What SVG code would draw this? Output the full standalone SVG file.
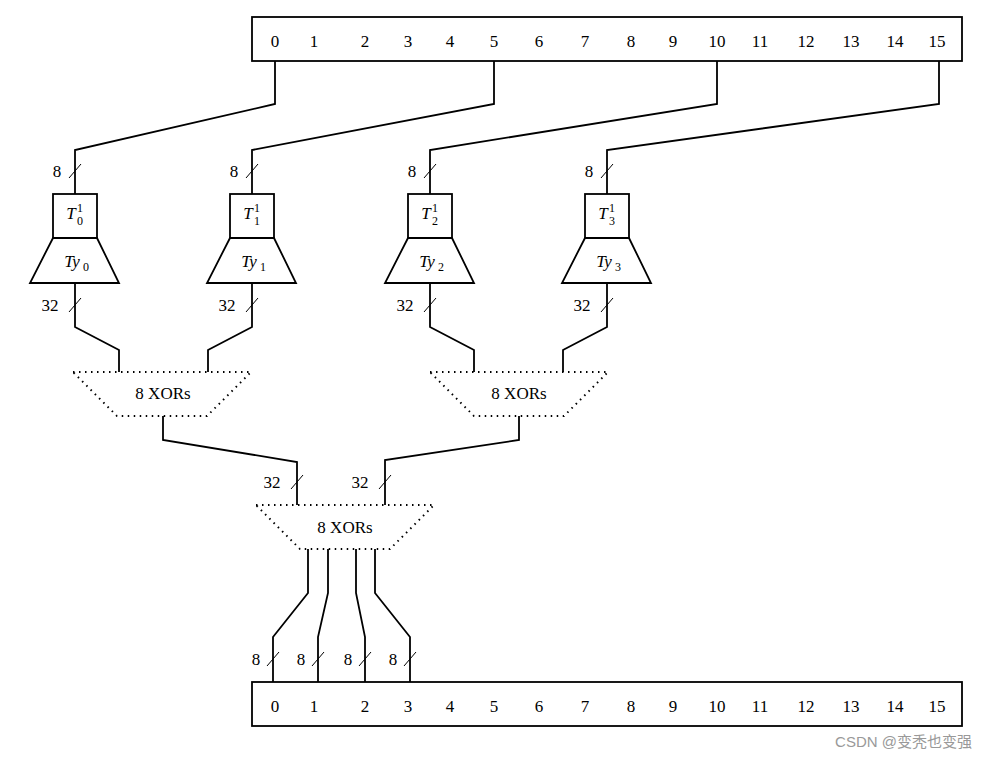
<svg xmlns="http://www.w3.org/2000/svg" width="988" height="760" viewBox="0 0 988 760">
<style>
text{font-family:"Liberation Serif",serif;font-size:17px;fill:#000;text-anchor:middle}
.w{fill:none;stroke:#000;stroke-width:1.8}
.d{fill:none;stroke:#000;stroke-width:2;stroke-dasharray:1.5 4.5}
.s{stroke:#000;stroke-width:1}
.i{font-style:italic}
.sm{font-size:12px;text-anchor:start}
</style>
<rect width="988" height="760" fill="#fff"/>
<g id="top"><rect class="w" x="252" y="17" width="710" height="44"/>
<text x="275" y="47">0</text><text x="314" y="47">1</text><text x="365" y="47">2</text><text x="408" y="47">3</text><text x="450" y="47">4</text><text x="494" y="47">5</text><text x="539" y="47">6</text><text x="585" y="47">7</text><text x="631" y="47">8</text><text x="673" y="47">9</text><text x="717" y="47">10</text><text x="760" y="47">11</text><text x="806" y="47">12</text><text x="851" y="47">13</text><text x="895" y="47">14</text><text x="937" y="47">15</text></g>
<g id="bottom"><rect class="w" x="252" y="682" width="710" height="44"/>
<text x="275" y="712">0</text><text x="314" y="712">1</text><text x="365" y="712">2</text><text x="408" y="712">3</text><text x="450" y="712">4</text><text x="494" y="712">5</text><text x="539" y="712">6</text><text x="585" y="712">7</text><text x="631" y="712">8</text><text x="673" y="712">9</text><text x="717" y="712">10</text><text x="760" y="712">11</text><text x="806" y="712">12</text><text x="851" y="712">13</text><text x="895" y="712">14</text><text x="937" y="712">15</text></g>
<g id="connectors">
<polyline class="w" points="275,61 275,104 75,150 75,194"/>
<polyline class="w" points="494,61 494,104 252,150 252,194"/>
<polyline class="w" points="717,61 717,104 430,150 430,194"/>
<polyline class="w" points="939,61 939,104 607,150 607,194"/>
<polyline class="w" points="75,283 75,327 119,350 119,372"/>
<polyline class="w" points="252,283 252,327 208,350 208,372"/>
<polyline class="w" points="430,283 430,327 474,350 474,372"/>
<polyline class="w" points="607,283 607,327 563,350 563,372"/>
<polyline class="w" points="163,416 163,440 297,462 297,505"/>
<polyline class="w" points="519,416 519,440 385,460 385,505"/>
<polyline class="w" points="308,549 308,593 273,637 273,682"/>
<polyline class="w" points="328,549 328,593 318,637 318,682"/>
<polyline class="w" points="356,549 356,593 365,637 365,682"/>
<polyline class="w" points="375,549 375,593 410,637 410,682"/>
<g class="s">
<line x1="69" y1="178" x2="81" y2="164"/><line x1="246" y1="178" x2="258" y2="164"/><line x1="424" y1="178" x2="436" y2="164"/><line x1="601" y1="178" x2="613" y2="164"/>
<line x1="69" y1="312" x2="81" y2="298"/><line x1="246" y1="312" x2="258" y2="298"/><line x1="424" y1="312" x2="436" y2="298"/><line x1="601" y1="312" x2="613" y2="298"/>
<line x1="291" y1="489" x2="303" y2="475"/><line x1="379" y1="489" x2="391" y2="475"/>
<line x1="267" y1="666" x2="279" y2="652"/><line x1="312" y1="666" x2="324" y2="652"/><line x1="359" y1="666" x2="371" y2="652"/><line x1="404" y1="666" x2="416" y2="652"/>
</g>
<text x="57" y="177">8</text><text x="234" y="177">8</text><text x="412" y="177">8</text><text x="589" y="177">8</text>
<text x="50" y="311">32</text><text x="227" y="311">32</text><text x="405" y="311">32</text><text x="582" y="311">32</text>
<text x="272" y="488">32</text><text x="360" y="488">32</text>
<text x="256" y="665">8</text><text x="301" y="665">8</text><text x="348" y="665">8</text><text x="393" y="665">8</text>
</g>
<g id="T0"><rect class="w" x="53" y="194" width="44" height="44"/><text x="71" y="219" class="i">T</text><text x="77" y="212" class="sm">1</text><text x="77" y="225" class="sm">0</text><polygon class="w" points="53,238 97,238 119,283 30,283"/><text x="72" y="267" class="i">Ty</text><text x="83" y="271" class="sm">0</text></g>
<g id="T1"><rect class="w" x="230" y="194" width="44" height="44"/><text x="248" y="219" class="i">T</text><text x="254" y="212" class="sm">1</text><text x="254" y="225" class="sm">1</text><polygon class="w" points="230,238 274,238 296,283 207,283"/><text x="249" y="267" class="i">Ty</text><text x="260" y="271" class="sm">1</text></g>
<g id="T2"><rect class="w" x="408" y="194" width="44" height="44"/><text x="426" y="219" class="i">T</text><text x="432" y="212" class="sm">1</text><text x="432" y="225" class="sm">2</text><polygon class="w" points="408,238 452,238 474,283 385,283"/><text x="427" y="267" class="i">Ty</text><text x="438" y="271" class="sm">2</text></g>
<g id="T3"><rect class="w" x="585" y="194" width="44" height="44"/><text x="603" y="219" class="i">T</text><text x="609" y="212" class="sm">1</text><text x="609" y="225" class="sm">3</text><polygon class="w" points="585,238 629,238 651,283 562,283"/><text x="604" y="267" class="i">Ty</text><text x="615" y="271" class="sm">3</text></g>
<g id="X1"><polygon class="d" points="73,372 251,372 207,416 117,416"/><text x="163" y="399">8 XORs</text></g>
<g id="X2"><polygon class="d" points="430,372 608,372 564,416 474,416"/><text x="519" y="399">8 XORs</text></g>
<g id="X3"><polygon class="d" points="256,505 434,505 390,549 300,549"/><text x="345" y="533">8 XORs</text></g>
<text x="972" y="747" style="font-family:'Liberation Sans','Noto Sans CJK SC',sans-serif;font-size:15px;fill:#999;text-anchor:end">CSDN @变秃也变强</text>
</svg>
